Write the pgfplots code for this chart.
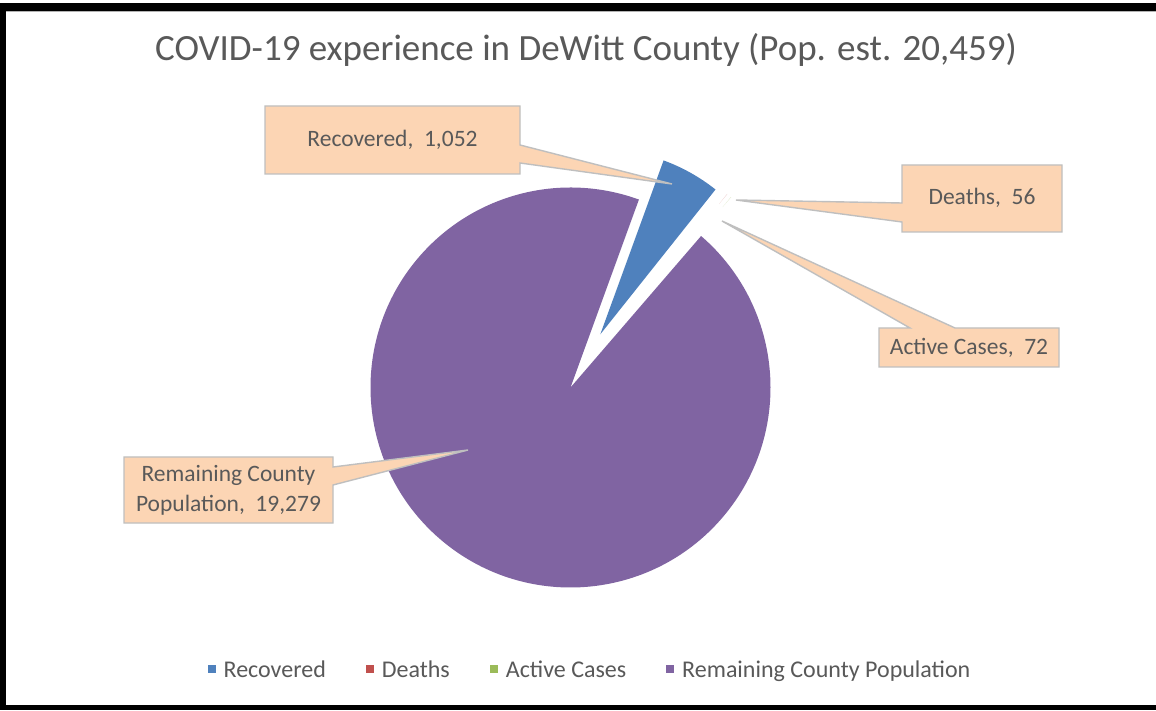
\documentclass[border=0pt]{standalone}
\usepackage{pgfplots}
\pgfplotsset{compat=1.18}
\usepackage{pgfplotstable}
\usepackage{fontspec}
\setmainfont{Carlito}
\definecolor{cRec}{HTML}{4F81BD}
\definecolor{cDea}{HTML}{C0504D}
\definecolor{cAct}{HTML}{9BBB59}
\definecolor{cRem}{HTML}{8064A2}
\definecolor{txt}{HTML}{595959}
\definecolor{callfill}{HTML}{FCD5B4}
\definecolor{callline}{HTML}{BFBFBF}

\pgfplotstableread{
label value
Recovered 1052
Deaths 56
Active 72
Remaining 19279
}\piedata

\begin{document}
\begin{tikzpicture}
\pgfplotstablegetelem{0}{value}\of\piedata \edef\vA{\pgfplotsretval}
\pgfplotstablegetelem{1}{value}\of\piedata \edef\vB{\pgfplotsretval}
\pgfplotstablegetelem{2}{value}\of\piedata \edef\vC{\pgfplotsretval}
\pgfplotstablegetelem{3}{value}\of\piedata \edef\vD{\pgfplotsretval}
\edef\total{\fpeval{\vA+\vB+\vC+\vD}}
% Excel: first slice at 20 deg clockwise from 12 o'clock
\edef\aA{70}
\edef\aB{\fpeval{round(\aA-360*\vA/\total,4)}}
\edef\aC{\fpeval{round(\aB-360*\vB/\total,4)}}
\edef\aD{\fpeval{round(\aC-360*\vC/\total,4)}}
\edef\aE{\fpeval{round(\aD-360*\vD/\total,4)}}
\edef\mA{\fpeval{round((\aA+\aB)/2,4)}}
\edef\mB{\fpeval{round((\aB+\aC)/2,4)}}
\edef\mC{\fpeval{round((\aC+\aD)/2,4)}}
\begin{axis}[
  at={(0,0)}, anchor=south west,
  scale only axis, width=1156pt, height=710pt,
  xmin=0, xmax=1156, ymin=0, ymax=710,
  hide axis, clip=false,
  legend columns=4,
  legend style={at={(0.5104,0.0564)}, anchor=center, draw=none, fill=none,
    font=\fontsize{24}{27}\selectfont, text=txt,
    /tikz/every even column/.append style={column sep=38pt},
    /tikz/every odd column/.append style={column sep=0pt},
    inner sep=0pt, outer sep=0pt},
  legend image code/.code={\fill[#1, draw=none] (0pt,-3.5pt) rectangle (8pt,4.5pt); \path[draw=none, fill=none] (0pt,0pt) (14pt,0pt);},
]
% background and frame
\fill[white] (axis cs:0,0) rectangle (axis cs:1156,710);
\fill[black] (axis cs:0,699) rectangle (axis cs:1156,707);
\fill[gray!60] (axis cs:6,698) rectangle (axis cs:1156,699);
\fill[black] (axis cs:0,0) rectangle (axis cs:6,707);
\fill[black] (axis cs:0,0) rectangle (axis cs:1156,5);

\addlegendimage{cRec}\addlegendentry{Recovered}
\addlegendimage{cDea}\addlegendentry{Deaths}
\addlegendimage{cAct}\addlegendentry{Active Cases}
\addlegendimage{cRem}\addlegendentry{Remaining County Population}

% pie slices
\fill[cRem] (axis cs:570.5,322.5) -- ++(\aD:200pt) arc[start angle=\aD, end angle=\aE, radius=200pt] -- cycle;
\fill[cRec] (axis cs:570.5,322.5) ++(\mA:61pt) -- ++(\aA:185pt) arc[start angle=\aA, end angle=\aB, radius=185pt] -- cycle;
\fill[cDea, opacity=0.35] (axis cs:570.5,322.5) ++(\mB:236pt) -- ++(\aB:13pt) arc[start angle=\aB, end angle=\aC, radius=13pt] -- cycle;
\fill[cAct, opacity=0.35] (axis cs:570.5,322.5) ++(\mC:236pt) -- ++(\aC:13pt) arc[start angle=\aC, end angle=\aD, radius=13pt] -- cycle;

% callouts
\begin{scope}[line width=1.4pt, draw=callline, fill=callfill, line join=miter]
\filldraw (axis cs:265,604) -- (axis cs:520,604) -- (axis cs:520,565) -- (axis cs:672,526) -- (axis cs:520,547) -- (axis cs:520,536) -- (axis cs:265,536) -- cycle;
\filldraw (axis cs:902,545) -- (axis cs:1062,545) -- (axis cs:1062,478) -- (axis cs:902,478) -- (axis cs:902,488) -- (axis cs:736,510) -- (axis cs:902,507) -- cycle;
\filldraw (axis cs:879,382) -- (axis cs:910,382) -- (axis cs:722,489) -- (axis cs:955,382) -- (axis cs:1059,382) -- (axis cs:1059,343) -- (axis cs:879,343) -- cycle;
\filldraw (axis cs:124,253) -- (axis cs:333,253) -- (axis cs:333,243) -- (axis cs:468,260) -- (axis cs:333,225) -- (axis cs:333,187) -- (axis cs:124,187) -- cycle;
\end{scope}
\begin{scope}[every node/.style={text=txt, font=\fontsize{23.5}{30}\selectfont, inner sep=0pt}]
\node at (axis cs:392.5,570) {Recovered,\ \ 1,052};
\node at (axis cs:982,512) {Deaths,\ \ 56};
\node at (axis cs:969,362.5) {Active Cases,\ \ 72};
\node[align=center] at (axis cs:228.5,220) {Remaining County\\Population,\ \ 19,279};
\end{scope}
% title
\node[text=txt, font=\fontsize{37}{44}\selectfont, inner sep=0pt] at (axis cs:586,660) {COVID-19 experience in DeWitt County (Pop. est. 20,459)};
\end{axis}
\end{tikzpicture}
\end{document}
